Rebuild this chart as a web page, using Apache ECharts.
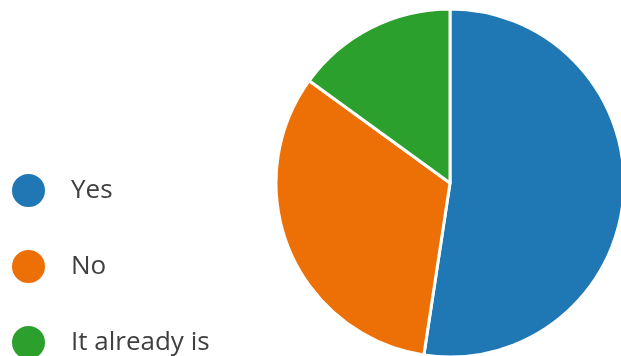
<!DOCTYPE html>
<html>
<head>
<meta charset="utf-8">
<script src="https://cdn.jsdelivr.net/npm/echarts@6/dist/echarts.min.js"></script>
<style>
  html, body { margin: 0; padding: 0; background: #ffffff; }
  #chart { width: 621px; height: 356px; }
</style>
</head>
<body>
<div id="chart"></div>
<script>
// Survey answers and their shares (percent)
const categories = ['Yes', 'No', 'It already is'];
const shares = [52.4, 32.6, 15];
const colors = ['#1f77b4', '#ec7005', '#2ca02c'];

const chart = echarts.init(document.getElementById('chart'), null, { renderer: 'canvas' });

chart.setOption({
  animation: false,
  backgroundColor: '#ffffff',
  color: colors,
  legend: {
    type: 'plain',
    orient: 'vertical',
    left: 10,
    top: 172,
    height: 200,
    padding: 0,
    icon: 'circle',
    itemWidth: 35,
    itemHeight: 35,
    itemGap: 39,
    data: categories,
    textStyle: {
      fontFamily: 'Open Sans',
      fontSize: 26,
      color: '#404040',
      padding: [0, 0, 0, 20]
    }
  },
  series: [{
    type: 'pie',
    center: [450, 183],
    radius: 174,
    startAngle: 90,
    clockwise: true,
    label: { show: false },
    labelLine: { show: false },
    emphasis: { disabled: true },
    itemStyle: { borderColor: '#ffffff', borderWidth: 3 },
    data: categories.map((name, i) => ({ name: name, value: shares[i] }))
  }]
});
</script>
</body>
</html>
